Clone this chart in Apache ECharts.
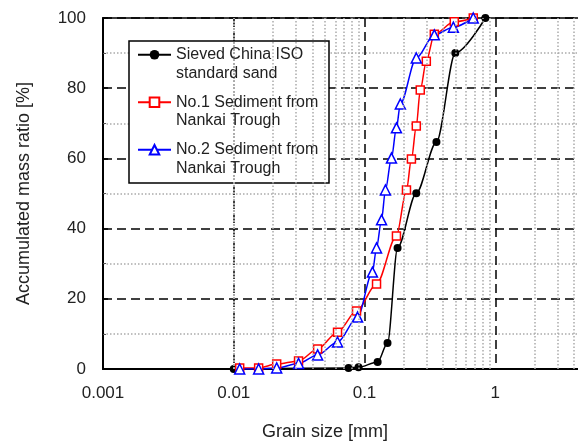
<!DOCTYPE html>
<html>
<head>
<meta charset="utf-8">
<script src="https://cdn.jsdelivr.net/npm/echarts@6/dist/echarts.min.js"></script>
<style>
  html, body { margin: 0; padding: 0; background: #fff; }
  #chart { width: 578px; height: 444px; }
</style>
</head>
<body>
<div id="chart"></div>
<script>
// grain size [mm] and accumulated mass ratio [%]
var isoSize = [0.01, 0.0755, 0.09, 0.126, 0.150, 0.179, 0.249, 0.355, 0.495, 0.84];
var isoRatio = [0, 0.3, 0.5, 2, 7.4, 34.5, 50.1, 64.7, 90, 100];

var no1Size = [0.0111, 0.0155, 0.0213, 0.0313, 0.0438, 0.0622, 0.0869, 0.1236, 0.1755, 0.2094, 0.2285, 0.249, 0.267, 0.297, 0.342, 0.486, 0.679];
var no1Ratio = [0.3, 0.3, 1.4, 2.3, 5.7, 10.5, 16.5, 24.2, 37.9, 51, 59.8, 69.2, 79.5, 87.7, 95.4, 98.9, 100];

var no2Size = [0.0111, 0.0155, 0.0213, 0.0313, 0.0438, 0.0622, 0.0885, 0.115, 0.1236, 0.135, 0.1446, 0.1608, 0.1755, 0.188, 0.249, 0.342, 0.478, 0.679];
var no2Ratio = [0, 0, 0.3, 1.6, 4, 7.7, 14.8, 27.6, 34.5, 42.5, 51, 60.1, 68.7, 75.5, 88.6, 95.2, 97.4, 100];

var seriesNames = ['Sieved China ISO\nstandard sand', 'No.1 Sediment from\nNankai Trough', 'No.2 Sediment from\nNankai Trough'];
var xTickLabels = ['0.001', '0.01', '0.1', '1', '10'];

function pairs(xs, ys) {
  return xs.map(function (x, i) { return [x, ys[i]]; });
}

// dotted minor grid at 2..9 of every decade
var minorX = [];
[0.001, 0.01, 0.1, 1].forEach(function (d) {
  for (var k = 2; k <= 9; k++) minorX.push({ xAxis: +(d * k).toPrecision(3) });
});

var font = '"Liberation Sans", Arial, sans-serif';
var chart = echarts.init(document.getElementById('chart'));

chart.setOption({
  animation: false,
  backgroundColor: '#fff',
  grid: {
    left: 103, top: 18, width: 523, height: 351,
    containLabel: false, outerBoundsMode: 'none',
    show: true, borderColor: '#000', borderWidth: 1.5
  },
  legend: {
    orient: 'vertical',
    left: 137, top: 27,
    padding: 0,
    itemGap: -8,
    itemWidth: 33, itemHeight: 12,
    z: 6,
    // blank first row so the icon lines up with the first text line
    formatter: function (name) { return '\n' + name; },
    textStyle: { fontFamily: font, fontSize: 16, color: '#222', lineHeight: 18.5 }
  },
  xAxis: {
    type: 'log', logBase: 10, min: 0.001, max: 10,
    axisLine: { lineStyle: { color: '#000', width: 2 } },
    axisTick: { show: false },
    axisLabel: {
      fontFamily: font, fontSize: 17, color: '#222', margin: 16,
      formatter: function (v) {
        var i = Math.round(Math.log10(v)) + 3;
        return xTickLabels[i];
      }
    },
    splitLine: { show: true, lineStyle: { color: '#000', width: 1.5, type: [9, 5] } }
  },
  yAxis: {
    type: 'value', min: 0, max: 100, interval: 20,
    name: 'Accumulated mass ratio [%]',
    nameLocation: 'middle', nameGap: 70,
    nameTextStyle: { fontFamily: font, fontSize: 18, color: '#222' },
    axisLine: { show: true, lineStyle: { color: '#000', width: 2 } },
    axisTick: { show: true, inside: true, length: 5, lineStyle: { color: '#000', width: 1.5 } },
    minorTick: { show: true, splitNumber: 2, length: 3, lineStyle: { color: '#555', width: 1 } },
    axisLabel: { fontFamily: font, fontSize: 17, color: '#222', margin: 17 },
    splitLine: { show: true, lineStyle: { color: '#000', width: 1.5, type: [9, 5] } },
    minorSplitLine: { show: true, lineStyle: { color: '#aaa', width: 1.5, type: [1.5, 2] } }
  },
  graphic: [
    {
      type: 'rect', z: 5, silent: true,
      shape: { x: 129, y: 41, width: 200, height: 142 },
      style: { fill: '#fff', stroke: '#000', lineWidth: 1.5 }
    },
    {
      type: 'text', x: 325, y: 432,
      style: { text: 'Grain size [mm]', font: '18px ' + font, fill: '#222', textAlign: 'center', textVerticalAlign: 'middle' }
    }
  ],
  series: [
    {
      type: 'line', name: '__minor', silent: true, z: 1,
      data: [],
      markLine: {
        silent: true, symbol: 'none', label: { show: false },
        lineStyle: { color: '#aaa', width: 1.5, type: [1.5, 2] },
        data: minorX
      }
    },
    {
      type: 'line', name: seriesNames[0], z: 3,
      data: pairs(isoSize, isoRatio),
      smooth: 0.3, smoothMonotone: 'x',
      symbol: 'circle', symbolSize: 8,
      itemStyle: { color: '#000' },
      lineStyle: { color: '#000', width: 1.5 }
    },
    {
      type: 'line', name: seriesNames[1], z: 3,
      data: pairs(no1Size, no1Ratio),
      smooth: 0.3, smoothMonotone: 'x',
      symbol: 'rect', symbolSize: 8,
      itemStyle: { color: '#fff', borderColor: '#f00', borderWidth: 1.5 },
      lineStyle: { color: '#f00', width: 1.5 }
    },
    {
      type: 'line', name: seriesNames[2], z: 3,
      data: pairs(no2Size, no2Ratio),
      smooth: 0.3, smoothMonotone: 'x',
      symbol: 'triangle', symbolSize: 10,
      itemStyle: { color: '#fff', borderColor: '#00f', borderWidth: 1.5 },
      lineStyle: { color: '#00f', width: 1.5 }
    }
  ]
});
chart.setOption({ legend: { data: seriesNames } });
</script>
</body>
</html>
